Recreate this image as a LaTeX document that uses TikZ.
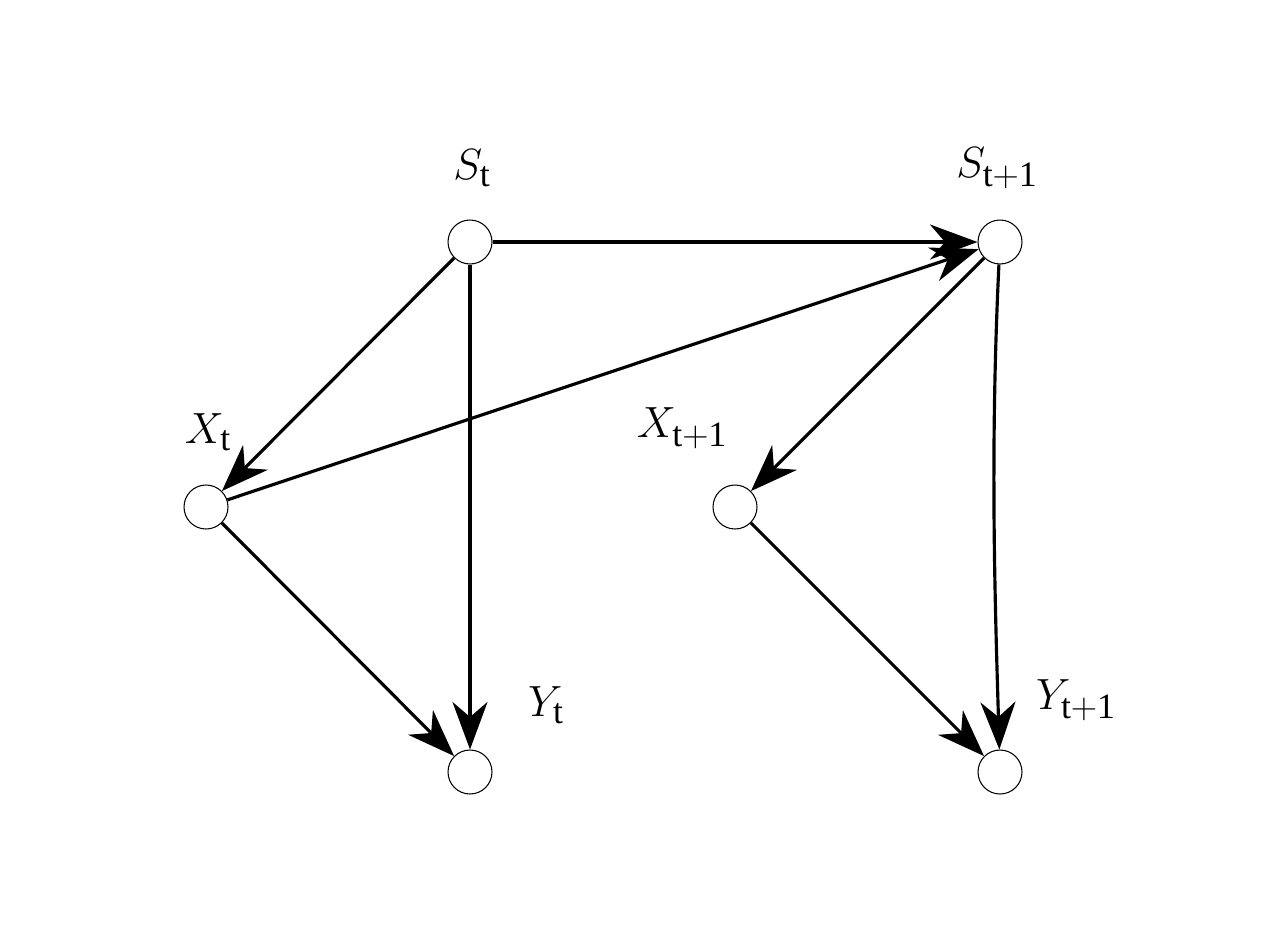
\documentclass[tikz,border=0pt]{standalone}
\usepackage{fontspec}
\setmainfont{Liberation Serif}
\usetikzlibrary{arrows.meta}

\begin{document}
\begin{tikzpicture}[x=0.02cm,y=-0.02cm,
    var/.style={circle,draw,line width=0.6pt,minimum size=0.88cm,inner sep=0pt},
    lbl/.style={font=\fontsize{29}{31}\selectfont},
    edge/.style={line width=1.8pt,-{Stealth[length=0.95cm,width=0.7cm,inset=0.3cm]}}]

    \useasboundingbox (0,0) rectangle (1280,927);

    % Variables
    \node[var] (st) at (470,242) {};
    \node[var] (st1) at (1000,242) {};
    \node[var] (xt) at (206,507) {};
    \node[var] (xt1) at (735,507) {};
    \node[var] (yt) at (470,772) {};
    \node[var] (yt1) at (1000,772) {};

    % Labels
    \node[lbl] (lst) at (472,168) {$S_{\mathrm{t}}$};
    \node[lbl] (lst1) at (997,168) {$S_{\mathrm{t+1}}$};
    \node[lbl] (lxt) at (208,432) {$X_{\mathrm{t}}$};
    \node[lbl] (lxt1) at (682,428) {$X_{\mathrm{t+1}}$};
    \node[lbl] (lyt) at (546,705) {$Y_{\mathrm{t}}$};
    \node[lbl] (lyt1) at (1076,700) {$Y_{\mathrm{t+1}}$};

    % Dependencies
    \draw[edge] (st) -- (st1);
    \draw[edge] (st) -- (xt);
    \draw[edge] (st) -- (yt);
    \draw[edge] (xt) -- (st1);
    \draw[edge] (xt) -- (yt);
    \draw[edge] (st1) -- (xt1);
    \draw[edge] (st1) .. controls (990,450) and (995,600) .. (yt1);
    \draw[edge] (xt1) -- (yt1);
\end{tikzpicture}
\end{document}
